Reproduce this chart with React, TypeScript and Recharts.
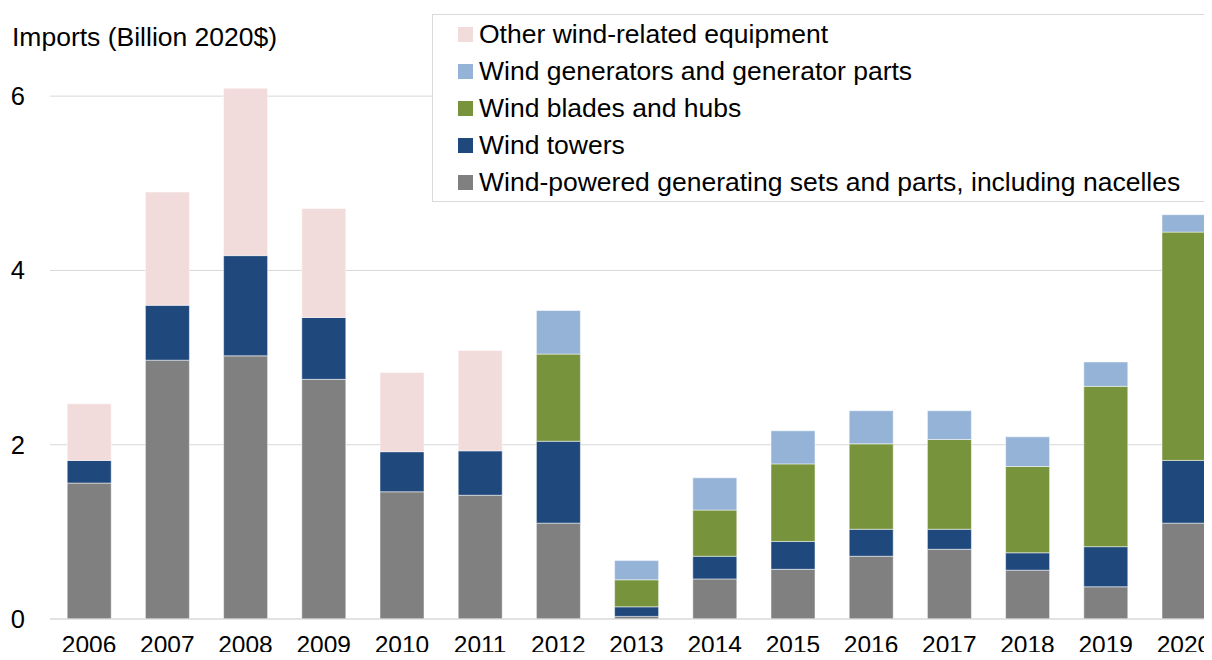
import { Bar, CartesianGrid, ComposedChart, XAxis, YAxis } from "recharts";

const years = ["2006", "2007", "2008", "2009", "2010", "2011", "2012", "2013", "2014", "2015", "2016", "2017", "2018", "2019", "2020"];

// stacked layers, bottom to top (Billion 2020$)
const generatingSets = [1.56, 2.97, 3.02, 2.75, 1.46, 1.42, 1.1, 0.03, 0.46, 0.57, 0.72, 0.8, 0.56, 0.37, 1.1];
const towers = [0.26, 0.63, 1.15, 0.71, 0.46, 0.51, 0.94, 0.11, 0.26, 0.32, 0.31, 0.23, 0.2, 0.46, 0.72];
const bladesHubs = [0, 0, 0, 0, 0, 0, 1.0, 0.31, 0.53, 0.89, 0.98, 1.03, 0.99, 1.84, 2.62];
const generators = [0, 0, 0, 0, 0, 0, 0.5, 0.22, 0.37, 0.38, 0.38, 0.33, 0.34, 0.28, 0.2];
const otherEquipment = [0.65, 1.3, 1.92, 1.25, 0.91, 1.15, 0, 0, 0, 0, 0, 0, 0, 0, 0];

const yTicks = [0, 2, 4, 6];

const series = [
  { key: "sets", name: "Wind-powered generating sets and parts, including nacelles", color: "#808080" },
  { key: "towers", name: "Wind towers", color: "#1F497D" },
  { key: "blades", name: "Wind blades and hubs", color: "#77933C" },
  { key: "generators", name: "Wind generators and generator parts", color: "#95B3D7" },
  { key: "other", name: "Other wind-related equipment", color: "#F2DCDB" },
];

const data = years.map((year, i) => ({
  year,
  sets: generatingSets[i],
  towers: towers[i],
  blades: bladesHubs[i],
  generators: generators[i],
  other: otherEquipment[i],
}));

const font = "Liberation Sans, Arial, sans-serif";

function LegendBox() {
  return (
    <div
      style={{
        position: "absolute",
        left: 432,
        top: 14,
        border: "1px solid #d9d9d9",
        background: "#fff",
        width: 773,
        height: 188,
        boxSizing: "border-box",
        paddingTop: 1,
        fontFamily: font,
      }}
    >
      {[...series].reverse().map((s) => (
        <div key={s.key} style={{ display: "flex", alignItems: "center", height: 37, paddingLeft: 25 }}>
          <span style={{ width: 15, height: 15, background: s.color, marginRight: 6, display: "inline-block" }} />
          <span style={{ fontSize: 26.5, color: "#000", whiteSpace: "nowrap" }}>{s.name}</span>
        </div>
      ))}
    </div>
  );
}

export default function App() {
  return (
    <div style={{ margin: -8, width: 1212, height: 660, overflow: "hidden", position: "relative", background: "#fff" }}>
      <ComposedChart
        width={1223}
        height={660}
        data={data}
        margin={{ top: 9, right: 0, bottom: 0, left: 0 }}
        barCategoryGap="22%"
        style={{ fontFamily: font }}
      >
        <CartesianGrid vertical={false} horizontalValues={yTicks} stroke="#d9d9d9" strokeWidth={1} />
        <XAxis
          dataKey="year"
          height={41}
          tickLine={false}
          tickSize={0}
          axisLine={{ stroke: "#d9d9d9" }}
          tick={{ fill: "#000", fontSize: 24.5 }}
          tickMargin={17}
          interval={0}
        />
        <YAxis
          width={50}
          domain={[0, 7]}
          ticks={yTicks}
          axisLine={false}
          tickLine={false}
          tickSize={0}
          tickMargin={25}
          tick={{ fill: "#000", fontSize: 25.5 }}
        />
        {series.map((s) => (
          <Bar
            key={s.key}
            dataKey={s.key}
            name={s.name}
            stackId="a"
            fill={s.color}
            stroke="#ffffff"
            strokeWidth={0.5}
            isAnimationActive={false}
          />
        ))}
      </ComposedChart>
      <div style={{ position: "absolute", left: 12, top: 22, fontFamily: font, fontSize: 26.5, color: "#000", whiteSpace: "nowrap" }}>
        Imports (Billion 2020$)
      </div>
      <LegendBox />
    </div>
  );
}
